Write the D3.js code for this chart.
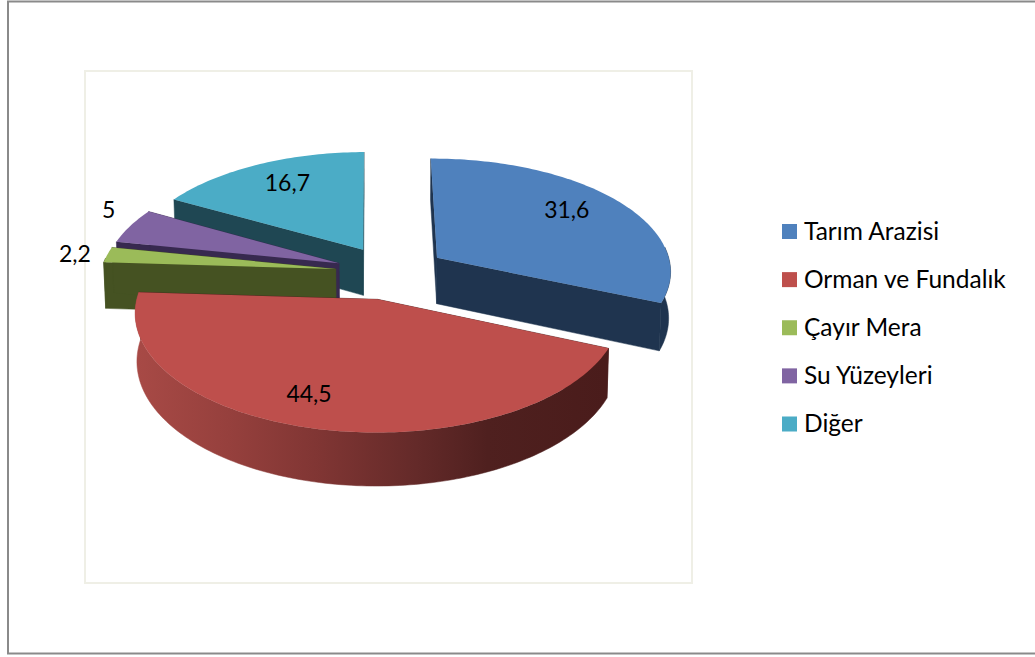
<!DOCTYPE html>
<html lang="tr">
<head>
<meta charset="UTF-8">
<title>Arazi Kullanımı</title>
<script src="https://d3js.org/d3.v7.min.js"></script>
<style>
    html, body { margin: 0; padding: 0; background: #fff; overflow: hidden; }
    svg { display: block; }
    text { font-family: Lato, "Open Sans", sans-serif; fill: #000; }
</style>
</head>
<body>
<script>
const categories = ["Tarım Arazisi", "Orman ve Fundalık", "Çayır Mera", "Su Yüzeyleri", "Diğer"];
const values = [31.6, 44.5, 2.2, 5, 16.7];
const valueLabels = ["31,6", "44,5", "2,2", "5", "16,7"];
const topColors = ["#4f81bd", "#be4f4c", "#9bbb59", "#8064a2", "#4bacc6"];
const wallColors = ["#1f344f", "#4a1d1c", "#455222", "#37294f", "#1f4753"];

// where each value label sits: share of the radius, share of the slice's sweep
const labelRadius = [0.739, 0.791, 1.135, 1.158, 0.735];
const labelSweep = [0.476, 0.535, 0.289, 0.746, 0.521];
// back-to-front painting order
const paintOrder = [4, 3, 2, 0, 1];

const width = 1035, height = 657;
const cx = 391, cy = 272.5;
const R = 235, explode = 56, tilt = 0.48, persp = 2200, depth = 46.5, bottomShrink = 0.993;
const rotation = -0.5 * Math.PI / 180;

const svg = d3.select("body").append("svg").attr("width", width).attr("height", height);

// chart frame and plot frame
svg.append("rect").attr("x", 8).attr("y", 1.5).attr("width", 1100).attr("height", 652)
    .attr("fill", "#fff").attr("stroke", "#8a8a8a").attr("stroke-width", 2);
svg.append("rect").attr("x", 85).attr("y", 71).attr("width", 607).attr("height", 512)
    .attr("fill", "#fff").attr("stroke", "#efefe6").attr("stroke-width", 2);

const defs = svg.append("defs");
const grad = defs.append("linearGradient").attr("id", "ormanWall")
    .attr("gradientUnits", "userSpaceOnUse")
    .attr("x1", 134).attr("x2", 605).attr("y1", 0).attr("y2", 0);
[[0, "#a84a46"], [0.2, "#96403d"], [0.4, "#7f3533"], [0.6, "#642a29"], [0.75, "#4f201f"], [1, "#4a1c1b"]]
    .forEach(s => grad.append("stop").attr("offset", s[0]).attr("stop-color", s[1]));

// plan coordinates to screen, z = 0 top face, z = 1 bottom face
function project(u, v, z) {
    const s = persp / (persp - v);
    const k = z ? bottomShrink : 1;
    return [cx + u * s * k, cy + v * tilt * s + (z ? depth * s : 0)];
}

const pie = d3.pie().sort(null).value(d => d)
    .startAngle(rotation).endAngle(2 * Math.PI + rotation)(values);
const line = d3.line();

function offset(a) { return [Math.sin(a) * explode, -Math.cos(a) * explode]; }

function arcPlan(a0, a1, off) {
    const n = Math.max(2, Math.ceil((a1 - a0) / 0.02));
    return d3.range(n + 1).map(i => {
        const a = a0 + (a1 - a0) * i / n;
        return [off[0] + Math.sin(a) * R, off[1] - Math.cos(a) * R];
    });
}

const slices = svg.append("g");

paintOrder.forEach(i => {
    const d = pie[i];
    const off = offset((d.startAngle + d.endAngle) / 2);
    const g = slices.append("g");
    const rim = arcPlan(d.startAngle, d.endAngle, off);

    // radial walls
    [rim[0], rim[rim.length - 1]].forEach(p => {
        const pts = [project(off[0], off[1], 0), project(p[0], p[1], 0), project(p[0], p[1], 1), project(off[0], off[1], 1)];
        g.append("path").attr("d", line(pts) + "Z")
            .attr("fill", wallColors[i]).attr("stroke", wallColors[i]).attr("stroke-width", 0.5);
    });

    // outer wall, only the part facing the viewer (a bit past the sides for the silhouette)
    const a0 = Math.max(d.startAngle, Math.PI / 2 - 0.1), a1 = Math.min(d.endAngle, Math.PI * 1.5 + 0.1);
    if (a1 > a0) {
        const front = arcPlan(a0, a1, off);
        const pts = front.map(p => project(p[0], p[1], 0)).concat(front.slice().reverse().map(p => project(p[0], p[1], 1)));
        const paint = i === 1 ? "url(#ormanWall)" : wallColors[i];
        g.append("path").attr("d", line(pts) + "Z").attr("fill", paint)
            .attr("stroke", paint).attr("stroke-width", 0.5);
    }

    // top face
    const top = [project(off[0], off[1], 0)].concat(rim.map(p => project(p[0], p[1], 0)));
    g.append("path").attr("d", line(top) + "Z").attr("fill", topColors[i]);
});

// value labels
pie.forEach((d, i) => {
    const off = offset((d.startAngle + d.endAngle) / 2);
    const a = d.startAngle + (d.endAngle - d.startAngle) * labelSweep[i];
    const r = R * labelRadius[i];
    const p = project(off[0] + Math.sin(a) * r, off[1] - Math.cos(a) * r, 0);
    svg.append("text").attr("x", p[0]).attr("y", p[1] - 3)
        .attr("text-anchor", "middle").attr("dominant-baseline", "central")
        .attr("font-size", 23).text(valueLabels[i]);
});

// legend
const legendY = d3.scalePoint().domain(categories).range([231.5, 424]);
const legend = svg.append("g").selectAll("g").data(categories).join("g")
    .attr("transform", d => `translate(782,${legendY(d)})`);
legend.append("rect").attr("x", 0).attr("y", -7.5).attr("width", 15).attr("height", 15)
    .attr("fill", (d, i) => topColors[i]);
legend.append("text").attr("x", 22).attr("y", -1.5)
    .attr("dominant-baseline", "central").attr("font-size", 24.5).text(d => d);
</script>
</body>
</html>
